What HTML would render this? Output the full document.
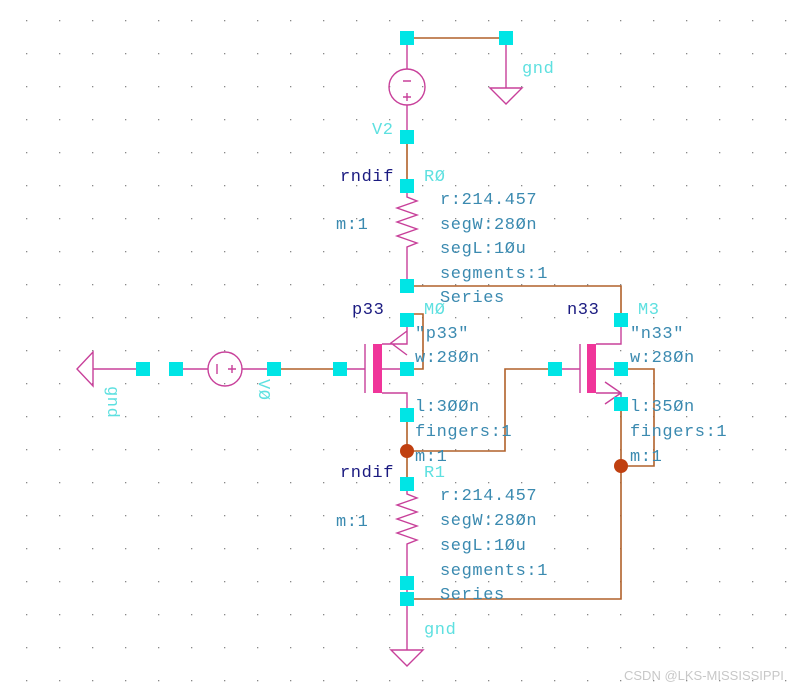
<!DOCTYPE html>
<html><head><meta charset="utf-8"><style>
html,body{margin:0;padding:0;background:#fff;}
svg{display:block;}
text{font-family:"Liberation Mono",monospace;font-size:17px;letter-spacing:0.6px;}
.w{stroke:#b0602a;stroke-width:1.6;fill:none;}
.p{stroke:#c8409a;stroke-width:1.4;fill:none;}
.k{fill:#00e5e5;}
.d{fill:#1a1a80;}
.c{fill:#5ee0e0;}
.t{fill:#3b8ab0;}
</style></head><body>
<svg width="794" height="687" viewBox="0 0 794 687" xmlns="http://www.w3.org/2000/svg">
<defs><pattern id="g" x="26" y="20" width="33" height="33" patternUnits="userSpaceOnUse"><rect x="0" y="0" width="1.3" height="1.3" fill="#888"/></pattern></defs>
<rect width="794" height="687" fill="url(#g)"/>
<path class="w" d="M407 38H506M407 137V186M407 286H621V320M407 369H423V314H407M407 415V484M407 451H505V369H555M274 369H340M621 369H654V466H621M621 404V599H407"/>
<path class="p" d="M506 38V88M490 88H522L506 104Z"/>
<path class="p" d="M407 38V69M407 105V137"/>
<circle class="p" cx="407" cy="87" r="18"/>
<path class="p" d="M403 81H411M403 97H411M407 93V101"/>
<path class="p" d="M407 186V197L417 201L397 208L417 215L397 222L417 229L397 236L417 243L407 247V286"/>
<path class="p" d="M407 484V494L417 498L397 505L417 512L397 519L417 526L397 533L417 540L407 544V599"/>
<path class="p" d="M407 599V650M391 650H423L407 666Z"/>
<path class="p" d="M340 369H365M365 344V393M382 344H407V320M382 369H407M382 393H407V415M407 331L391 343L407 355"/>
<rect x="373" y="344" width="9" height="49" fill="#f0359a"/>
<path class="p" d="M555 369H580M580 344V393M596 344H621V320M596 369H621M596 393H621V404M605 382L621 393L605 404"/>
<rect x="587" y="344" width="9" height="49" fill="#f0359a"/>
<path class="p" d="M93 369H143M176 369H208M242 369H274M93 352V386L77 369Z"/>
<circle class="p" cx="225" cy="369" r="17"/>
<path class="p" d="M217 364V374M228 369H236M232 365V373"/>
<circle cx="407" cy="451" r="7" fill="#c04010"/>
<circle cx="621" cy="466" r="7" fill="#c04010"/>
<g class="k">
<rect x="400" y="31" width="14" height="14"/><rect x="499" y="31" width="14" height="14"/>
<rect x="400" y="130" width="14" height="14"/><rect x="400" y="179" width="14" height="14"/>
<rect x="400" y="279" width="14" height="14"/><rect x="400" y="313" width="14" height="14"/>
<rect x="400" y="362" width="14" height="14"/><rect x="400" y="408" width="14" height="14"/>
<rect x="333" y="362" width="14" height="14"/><rect x="548" y="362" width="14" height="14"/>
<rect x="614" y="313" width="14" height="14"/><rect x="614" y="362" width="14" height="14"/>
<rect x="614" y="397" width="14" height="14"/><rect x="400" y="477" width="14" height="14"/>
<rect x="400" y="576" width="14" height="14"/><rect x="400" y="592" width="14" height="14"/>
<rect x="136" y="362" width="14" height="14"/><rect x="169" y="362" width="14" height="14"/>
<rect x="267" y="362" width="14" height="14"/>
</g>
<text x="522" y="73" class="c">gnd</text>
<text x="372" y="134" class="c">V2</text>
<text x="340" y="181" class="d">rndif</text>
<text x="424" y="181" class="c">RØ</text>
<text x="336" y="229" class="t">m:1</text>
<g class="t"><text x="440" y="204">r:214.457</text><text x="440" y="229">segW:28Øn</text><text x="440" y="253">segL:1Øu</text><text x="440" y="278">segments:1</text><text x="440" y="302">Series</text></g>
<text x="352" y="314" class="d">p33</text>
<text x="424" y="314" class="c">MØ</text>
<g class="t"><text x="415" y="338">"p33"</text><text x="415" y="362">w:28Øn</text><text x="415" y="411">l:3ØØn</text><text x="415" y="436">fingers:1</text><text x="415" y="461">m:1</text></g>
<text x="567" y="314" class="d">n33</text>
<text x="638" y="314" class="c">M3</text>
<g class="t"><text x="630" y="338">"n33"</text><text x="630" y="362">w:28Øn</text><text x="630" y="411">l:35Øn</text><text x="630" y="436">fingers:1</text><text x="630" y="461">m:1</text></g>
<text x="340" y="477" class="d">rndif</text>
<text x="424" y="477" class="c">R1</text>
<text x="336" y="526" class="t">m:1</text>
<g class="t"><text x="440" y="500">r:214.457</text><text x="440" y="525">segW:28Øn</text><text x="440" y="550">segL:1Øu</text><text x="440" y="575">segments:1</text><text x="440" y="599">Series</text></g>
<text x="424" y="634" class="c">gnd</text>
<text class="c" transform="translate(108,386) rotate(90)">gnd</text>
<text class="c" transform="translate(259,379) rotate(90)">VØ</text>
<text x="624" y="680" fill="#c8c8c8" style="font-family:'Liberation Sans',sans-serif;font-size:13px;letter-spacing:0">CSDN @LKS-MISSISSIPPI</text>
</svg>
</body></html>
